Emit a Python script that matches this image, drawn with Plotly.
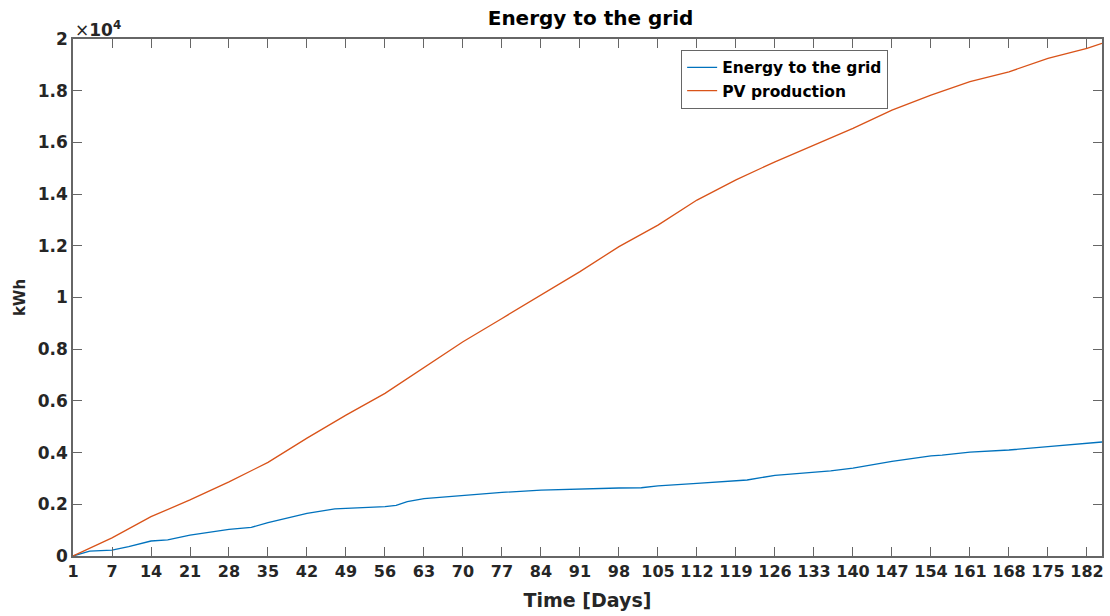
import plotly.graph_objects as go

days = [0, 7, 14, 21, 28, 35, 42, 49, 56, 63, 70, 77, 84, 91, 98, 105, 112, 119, 126, 133, 140, 147, 154, 161, 168, 175, 182, 184.7]
pv_production = [0, 700, 1520, 2170, 2870, 3620, 4560, 5450, 6290, 7300, 8290, 9190, 10100, 11000, 11970, 12800, 13770, 14550, 15250, 15900, 16540, 17250, 17830, 18350, 18730, 19250, 19640, 19830]

grid_days = [0, 3, 7, 10, 14, 17, 21, 28, 32, 35, 42, 47, 49, 56, 58, 60, 63, 70, 77, 84, 91, 98, 102, 105, 112, 119, 121, 126, 133, 136, 140, 147, 154, 156, 161, 168, 175, 182, 184.7]
energy_to_grid = [0, 190, 230, 360, 580, 620, 810, 1030, 1110, 1290, 1650, 1820, 1840, 1910, 1960, 2100, 2220, 2350, 2460, 2550, 2600, 2630, 2640, 2710, 2810, 2910, 2940, 3120, 3250, 3290, 3400, 3660, 3870, 3900, 4020, 4100, 4230, 4360, 4410]

x_tickvals = [0, 7, 14, 21, 28, 35, 42, 49, 56, 63, 70, 77, 84, 91, 98, 105, 112, 119, 126, 133, 140, 147, 154, 161, 168, 175, 182]
x_ticktext = ["1"] + [str(v) for v in x_tickvals[1:]]
y_tickvals = [0, 2000, 4000, 6000, 8000, 10000, 12000, 14000, 16000, 18000, 20000]
y_ticktext = ["0", "0.2", "0.4", "0.6", "0.8", "1", "1.2", "1.4", "1.6", "1.8", "2"]

FONT = "DejaVu Sans, Liberation Sans, sans-serif"
AX = "#666666"
TXT = "#262626"

fig = go.Figure()
fig.add_trace(go.Scatter(x=grid_days, y=energy_to_grid, mode="lines", name="Energy to the grid",
                         line=dict(color="#0072BD", width=1.3)))
fig.add_trace(go.Scatter(x=days, y=pv_production, mode="lines", name="PV production",
                         line=dict(color="#D95319", width=1.3)))

fig.update_layout(
    width=1110, height=616,
    paper_bgcolor="white", plot_bgcolor="white",
    margin=dict(l=73, r=6, t=39, b=60),
    font=dict(family=FONT, color=TXT),
    title=dict(text="Energy to the grid", x=0.532, xanchor="center", y=0.970, yanchor="middle",
               font=dict(family=FONT, size=20, weight="bold", color="black")),
    legend=dict(x=0.591, y=0.979, xanchor="left", yanchor="top",
                bordercolor=AX, borderwidth=1, bgcolor="white",
                font=dict(family=FONT, size=15.5, weight="bold", color="black"),
                tracegroupgap=0, itemwidth=30),
    showlegend=True,
)
fig.update_xaxes(range=[0, 184.7], tickvals=x_tickvals, ticktext=x_ticktext,
                 showgrid=False, zeroline=False, showline=True, linecolor=AX, linewidth=1.5,
                 mirror="ticks", ticks="inside", ticklen=9, tickcolor=AX,
                 tickfont=dict(family=FONT, size=16, weight="bold", color=TXT),
                 title=dict(text="Time [Days]", standoff=14,
                            font=dict(family=FONT, size=19, weight="bold", color=TXT)))
fig.update_yaxes(range=[0, 20000], tickvals=y_tickvals, ticktext=y_ticktext,
                 showgrid=False, zeroline=False, showline=True, linecolor=AX, linewidth=1.5,
                 mirror="ticks", ticks="inside", ticklen=9, tickcolor=AX,
                 tickfont=dict(family=FONT, size=17, weight="bold", color=TXT),
                 title=dict(text="kWh", standoff=8,
                            font=dict(family=FONT, size=15, weight="bold", color=TXT)))
fig.add_annotation(xref="paper", yref="paper", x=0.0, y=1.0, xanchor="left", yanchor="bottom",
                   text="×<b>10<sup>4</sup></b>", showarrow=False, xshift=0, yshift=-3,
                   font=dict(family=FONT, size=17, color=TXT))

fig.write_html("out.html")
